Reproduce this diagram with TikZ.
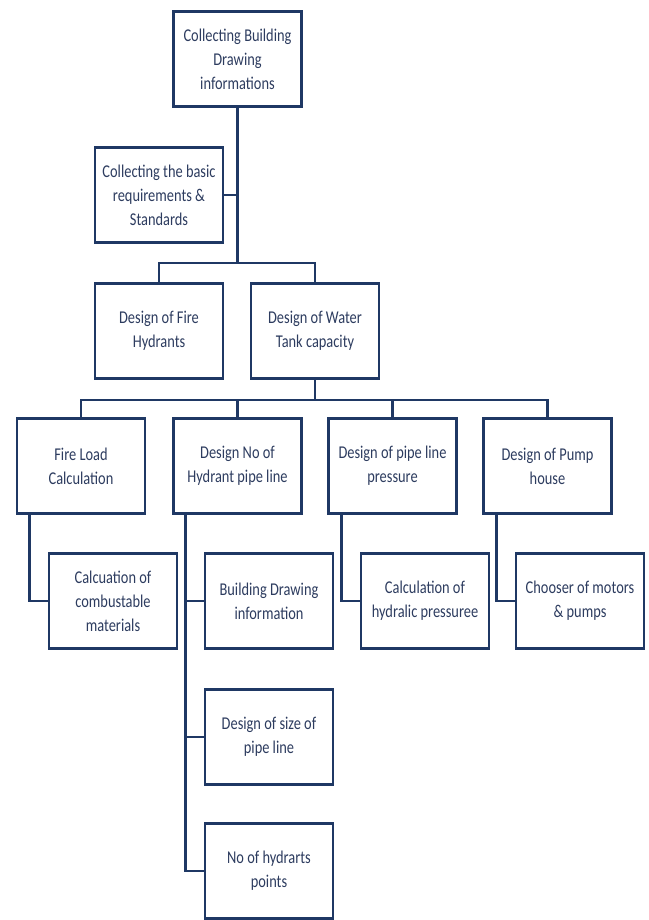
\documentclass[tikz,border=0pt]{standalone}
\usepackage{fontspec}
\setmainfont[FakeStretch=0.8]{Carlito}
\definecolor{navy}{RGB}{31,56,100}
\definecolor{boxtext}{RGB}{45,60,95}
\begin{document}
\begin{tikzpicture}[x=1pt,y=-1pt,
	box/.style={draw=navy,line width=2.6pt,minimum width=128pt,minimum height=95pt,inner sep=2pt,align=center,text=boxtext,font=\fontsize{18}{24}\selectfont},
	link/.style={draw=navy,line width=2.6pt}]
		\useasboundingbox (0,0) rectangle (648,920);
		\node [box] at (237.5,59) (top) {Collecting Building\\Drawing\\informations};
		\node [box] at (159,195) (basic) {Collecting the basic\\requirements \&\\Standards};
		\node [box] at (159,331) (hydrant) {Design of Fire\\Hydrants};
		\node [box] at (315,331) (tank) {Design of Water\\Tank capacity};
		\foreach \x/\n/\t in {81/fireload/{Fire Load\\Calculation}, 237.5/hydno/{Design No of\\Hydrant pipe line}, 392.5/pressure/{Design of pipe line\\pressure}, 547.5/pump/{Design of Pump\\house}}{
			\node [box] at (\x,466) (\n) {\t};
		}
		\foreach \x/\n/\t in {113/combust/{Calcuation of\\combustable\\materials}, 269/bdinfo/{Building Drawing\\information}, 425/hydpress/{Calculation of\\hydralic pressuree}, 580/motors/{Chooser of motors\\\& pumps}}{
			\node [box] at (\x,601) (\n) {\t};
		}
		\node [box] at (269,737) (pipesize) {Design of size of\\pipe line};
		\node [box] at (269,871) (hydpoints) {No of hydrarts\\points};
		\coordinate (busA) at (237.5,263);
		\coordinate (busB) at (315,400);
		\draw [link] (top.south) -- (busA);
		\draw [link] (basic.east) -- (basic.east -| top.south);
		\draw [link] (hydrant.north) |- (busA) -| (tank.north);
		\draw [link] (tank.south) -- (busB);
		\draw [link] (fireload.north) |- (busB) -| (pump.north);
		\foreach \n in {hydno,pressure}
			\draw [link] (\n.north) |- (busB);
		\foreach \p/\c in {fireload/combust, pressure/hydpress, pump/motors}
			\draw [link] ([xshift=14pt]\p.south west) |- (\c.west);
		\coordinate (hydleg) at ([xshift=13pt]hydno.south west);
		\draw [link] (hydleg) |- (hydpoints.west);
		\foreach \c in {bdinfo,pipesize}
			\draw [link] (\c.west) -- (\c.west -| hydleg);
	\end{tikzpicture}
\end{document}
